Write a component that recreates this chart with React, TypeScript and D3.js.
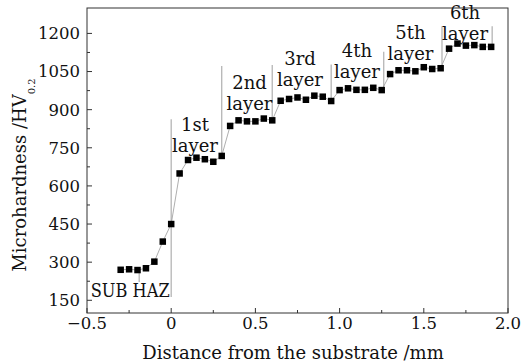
import React from 'react';
import * as d3 from 'd3';

// distance from substrate (mm) and hardness (HV0.2)
const distance = [
  -0.3, -0.25, -0.2, -0.15, -0.1, -0.05, 0,
  0.05, 0.1, 0.15, 0.2, 0.25, 0.3,
  0.35, 0.4, 0.45, 0.5, 0.55, 0.6,
  0.65, 0.7, 0.75, 0.8, 0.85, 0.9, 0.95,
  1.0, 1.05, 1.1, 1.15, 1.2, 1.25,
  1.3, 1.35, 1.4, 1.45, 1.5, 1.55, 1.6,
  1.65, 1.7, 1.75, 1.8, 1.85, 1.9,
];
const hardness = [
  270, 272, 269, 276, 302, 381, 450,
  649, 702, 711, 705, 695, 718,
  836, 858, 854, 854, 865, 858,
  935, 942, 948, 939, 955, 951, 934,
  977, 984, 978, 978, 986, 977,
  1040, 1055, 1055, 1051, 1067, 1060, 1063,
  1140, 1160, 1152, 1154, 1147, 1147,
];

const xMajor = [-0.5, 0, 0.5, 1.0, 1.5, 2.0];
const xMajorLabels = ['\u22120.5', '0', '0.5', '1.0', '1.5', '2.0'];
const xMinor = [-0.25, 0.25, 0.75, 1.25, 1.75];
const yMajor = [150, 300, 450, 600, 750, 900, 1050, 1200];
const yMinor = [225, 375, 525, 675, 825, 975, 1125];

// layer boundaries: x, top, bottom (in data units)
const boundaries = [
  { x: -0.19, top: 268, bottom: 222 },
  { x: 0, top: 862, bottom: 163 },
  { x: 0.3, top: 1072, bottom: 722 },
  { x: 0.6, top: 1076, bottom: 870 },
  { x: 0.95, top: 1078, bottom: 944 },
  { x: 1.262, top: 1128, bottom: 985 },
  { x: 1.608, top: 1228, bottom: 1075 },
  { x: 1.906, top: 1228, bottom: 1158 },
];

const layerNames = ['1st', '2nd', '3rd', '4th', '5th', '6th'];
const layerX = [0.141, 0.465, 0.765, 1.103, 1.421, 1.745];
const layerY = [735, 900, 993, 1023, 1097, 1174];

const W = 523;
const H = 363;
const margin = { left: 87, right: 15, top: 8, bottom: 50 };
const FONT = '"DejaVu Serif", serif';

export default function App() {
  const x = d3.scaleLinear().domain([-0.5, 2.0]).range([margin.left, W - margin.right]);
  const y = d3.scaleLinear().domain([100, 1300]).range([H - margin.bottom, margin.top]);
  const pts = distance.map((d, i) => [d, hardness[i]] as [number, number]);
  const line = d3.line<[number, number]>().x(d => x(d[0])).y(d => y(d[1]));
  const x0 = margin.left, x1 = W - margin.right;
  const y0 = H - margin.bottom, y1 = margin.top;
  const sq = 6.5;

  return (
    <svg width={W} height={H} style={{ position: 'absolute', left: 0, top: 0, background: '#fff' }}
      fontFamily={FONT} fontSize={18}>
      {/* boundaries */}
      {boundaries.map((b, i) => (
        <line key={'b' + i} x1={x(b.x)} x2={x(b.x)} y1={y(b.top)} y2={y(b.bottom)}
          stroke="#b5b5b5" strokeWidth={1.3} />
      ))}
      <path d={line(pts) || ''} fill="none" stroke="#999" strokeWidth={0.8} />
      {pts.map((p, i) => (
        <rect key={'p' + i} x={x(p[0]) - sq / 2} y={y(p[1]) - sq / 2} width={sq} height={sq} fill="#000" />
      ))}

      {/* frame */}
      <rect x={x0} y={y1} width={x1 - x0} height={y0 - y1} fill="none" stroke="#333" strokeWidth={1} />
      {xMajor.map((v, i) => (
        <g key={'xm' + i}>
          <line x1={x(v)} x2={x(v)} y1={y0} y2={y0 - 5} stroke="#333" />
          <text x={x(v)} y={y0 + 15.5} textAnchor="middle" fill="#111" fontSize={16.5}>{xMajorLabels[i]}</text>
        </g>
      ))}
      {xMinor.map((v, i) => (
        <line key={'xn' + i} x1={x(v)} x2={x(v)} y1={y0} y2={y0 - 3} stroke="#333" />
      ))}
      {yMajor.map((v, i) => (
        <g key={'ym' + i}>
          <line x1={x0} x2={x0 + 5} y1={y(v)} y2={y(v)} stroke="#333" />
          <text x={x0 - 7} y={y(v)} dy="0.36em" textAnchor="end" fill="#111" fontSize={16.5}>{v}</text>
        </g>
      ))}
      {yMinor.map((v, i) => (
        <line key={'yn' + i} x1={x0} x2={x0 + 3} y1={y(v)} y2={y(v)} stroke="#333" />
      ))}

      {/* layer labels */}
      {layerNames.map((n, i) => (
        <g key={'l' + i} fill="#111" textAnchor="middle">
          <text x={x(layerX[i])} y={y(layerY[i]) - 21}>{n}</text>
          <text x={x(layerX[i])} y={y(layerY[i])}>layer</text>
        </g>
      ))}
      <text x={x(-0.478)} y={y(164)} fill="#111" textLength={79} lengthAdjust="spacingAndGlyphs">SUB HAZ</text>

      {/* axis titles */}
      <text x={293} y={358.5} textAnchor="middle" fill="#111">Distance from the substrate /mm</text>
      <text transform="translate(26,175) rotate(-90)" textAnchor="middle" fill="#111">
        Microhardness /HV<tspan fontSize={10} dy={9}>0.2</tspan>
      </text>
    </svg>
  );
}
